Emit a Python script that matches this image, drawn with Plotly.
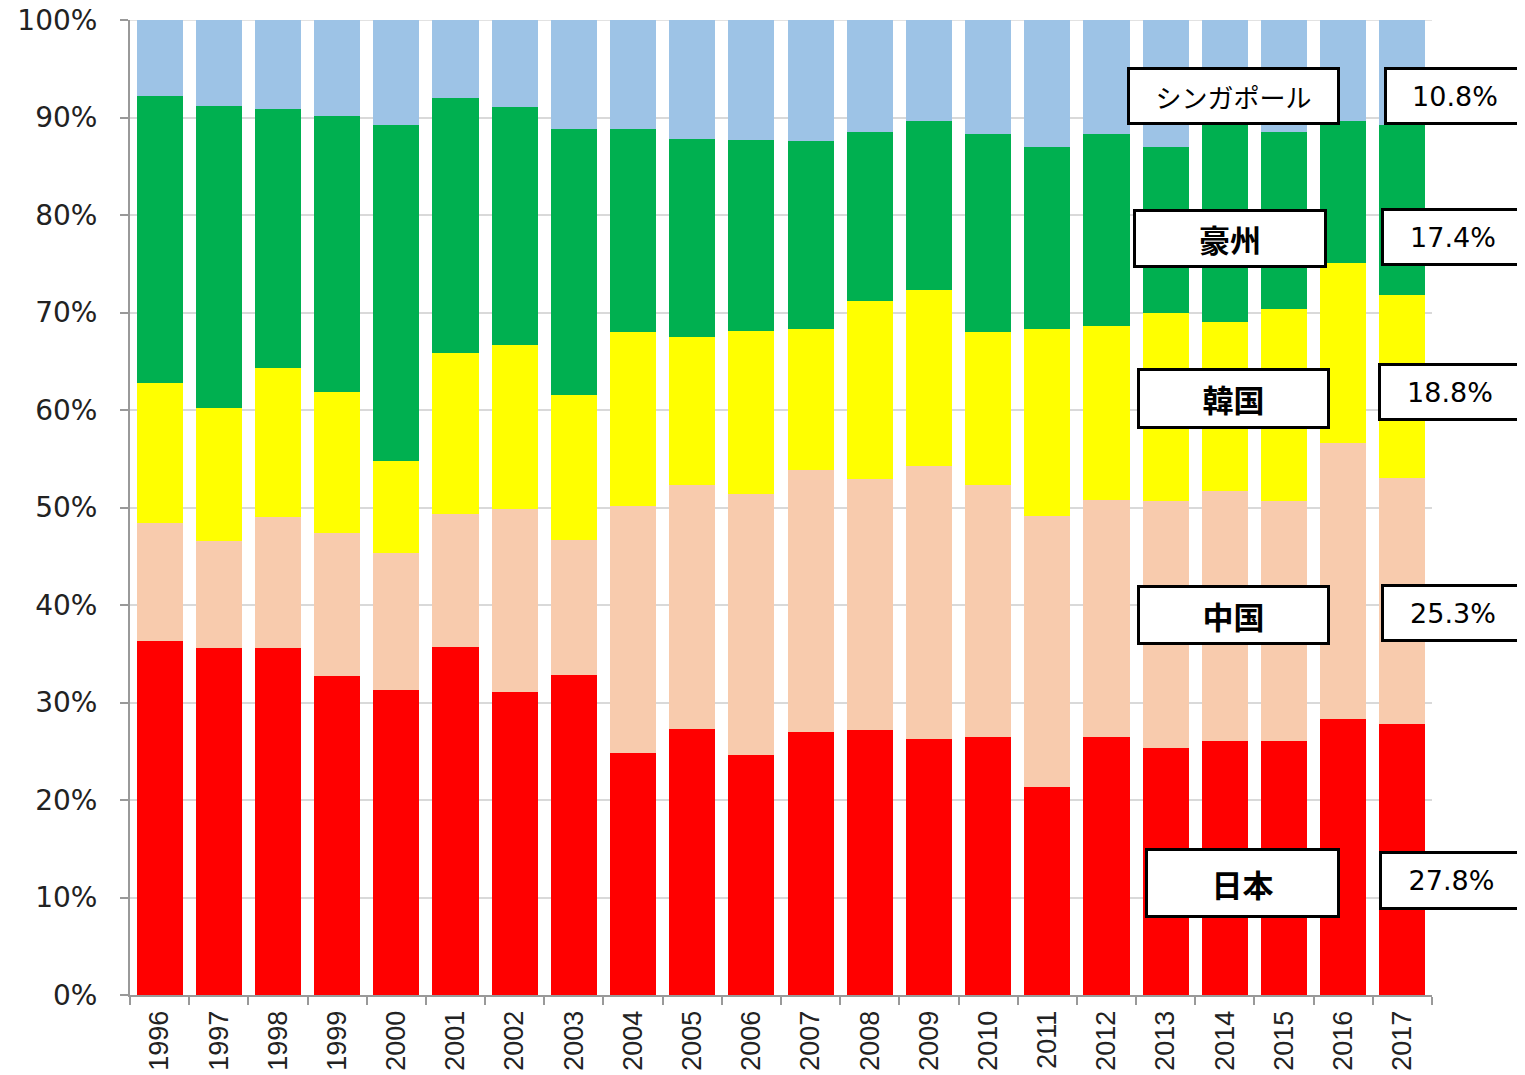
import plotly.graph_objects as go

years = [str(y) for y in range(1996, 2018)]
japan = [36.3, 35.6, 35.6, 32.7, 31.3, 35.7, 31.1, 32.8, 24.8, 27.3, 24.6, 27.0, 27.2, 26.3, 26.5, 21.3, 26.5, 25.3, 26.1, 26.1, 28.3, 27.8]
china = [12.1, 11.0, 13.4, 14.7, 14.0, 13.6, 18.7, 13.9, 25.4, 25.0, 26.8, 26.8, 25.7, 28.0, 25.8, 27.8, 24.3, 25.4, 25.6, 24.6, 28.3, 25.3]
korea = [14.4, 13.6, 15.3, 14.4, 9.5, 16.5, 16.9, 14.8, 17.8, 15.2, 16.7, 14.5, 18.3, 18.0, 15.7, 19.2, 17.8, 19.2, 17.3, 19.7, 18.5, 18.8]
australia = [29.4, 31.0, 26.6, 28.4, 34.4, 26.2, 24.4, 27.3, 20.8, 20.3, 19.6, 19.3, 17.3, 17.3, 20.3, 18.7, 19.7, 17.1, 20.5, 18.1, 14.5, 17.4]
singapore = [7.8, 8.8, 9.1, 9.8, 10.8, 8.0, 8.9, 11.2, 11.2, 12.2, 12.3, 12.4, 11.5, 10.4, 11.7, 13.0, 11.7, 13.0, 10.5, 11.5, 10.4, 10.8]

series = [
    ("日本", japan, "#FF0000"),
    ("中国", china, "#F8CBAD"),
    ("韓国", korea, "#FFFF00"),
    ("豪州", australia, "#00B050"),
    ("シンガポール", singapore, "#9DC3E6"),
]

fig = go.Figure()
for name, vals, col in series:
    fig.add_trace(go.Bar(x=years, y=vals, name=name, marker=dict(color=col, line=dict(width=0))))

OFF = 8  # page body margin
W, H = 1517, 1067
L, R, T, B = 122, 93, 12, 80
pw, ph = W - L - R, H - T - B

def px(xp):
    return (xp - OFF - L) / pw

def py(yp):
    return (T + ph - (yp - OFF)) / ph

# label boxes (page pixel positions): (text, bold, cx, cy, w, h)
labels = [
    ("シンガポール", False, 1233.5, 96, 213, 58),
    ("豪州", True, 1230, 238.5, 194, 59),
    ("韓国", True, 1233.5, 398.5, 193, 61),
    ("中国", True, 1233.5, 615, 193, 60),
    ("日本", True, 1242.5, 883, 195, 70),
]
last_vals = [singapore[-1], australia[-1], korea[-1], china[-1], japan[-1]]
value_boxes = [
    (1455, 96, 142, 58),
    (1453, 237, 144, 58),
    (1450, 392, 144, 58),
    (1453, 613, 144, 58),
    (1451.5, 880.5, 145, 59),
]

for (txt, bold, cx, cy, w, h) in labels:
    fig.add_annotation(
        x=px(cx), y=py(cy), xref="paper", yref="paper", showarrow=False,
        text=f"<b>{txt}</b>" if bold else txt,
        font=dict(family="Noto Sans CJK JP", size=31 if bold else 26, color="black"),
        width=w - 6, height=h - 6, bgcolor="white", bordercolor="black",
        borderwidth=3, borderpad=0, xanchor="center", yanchor="middle",
    )
for v, (cx, cy, w, h) in zip(last_vals, value_boxes):
    fig.add_annotation(
        x=px(cx), y=py(cy), xref="paper", yref="paper", showarrow=False,
        text=f"{v:.1f}%",
        font=dict(family="DejaVu Sans", size=27, color="black"),
        width=w - 6, height=h - 6, bgcolor="white", bordercolor="black",
        borderwidth=3, borderpad=0, xanchor="center", yanchor="middle",
    )

# top gridline at 100%
fig.add_shape(type="line", xref="paper", yref="y", x0=0, x1=1, y0=100, y1=100,
              line=dict(color="#D9D9D9", width=1.5), layer="below")

fig.update_layout(
    width=W, height=H, barmode="stack", barnorm="percent", bargap=0.22,
    showlegend=False, plot_bgcolor="white", paper_bgcolor="white",
    margin=dict(l=L, r=R, t=T, b=B, autoexpand=False),
    xaxis=dict(type="category", showline=True, linecolor="#999999", linewidth=2,
               ticks="outside", ticklen=8, tickcolor="#999999", tickwidth=2,
               tickson="boundaries", tickangle=-90, ticklabelstandoff=3,
               tickfont=dict(family="Liberation Sans", size=27, color="#222222")),
    yaxis=dict(range=[0, 100], dtick=10, ticksuffix="%", showline=True,
               linecolor="#999999", linewidth=2, ticks="outside", ticklen=8,
               tickcolor="#999999", tickwidth=2, showgrid=True, gridcolor="#D9D9D9",
               gridwidth=1.5, zeroline=False, ticklabeloverflow="allow",
               ticklabelstandoff=17,
               tickfont=dict(family="DejaVu Sans", size=28, color="#222222")),
)

fig.write_html("out.html")
